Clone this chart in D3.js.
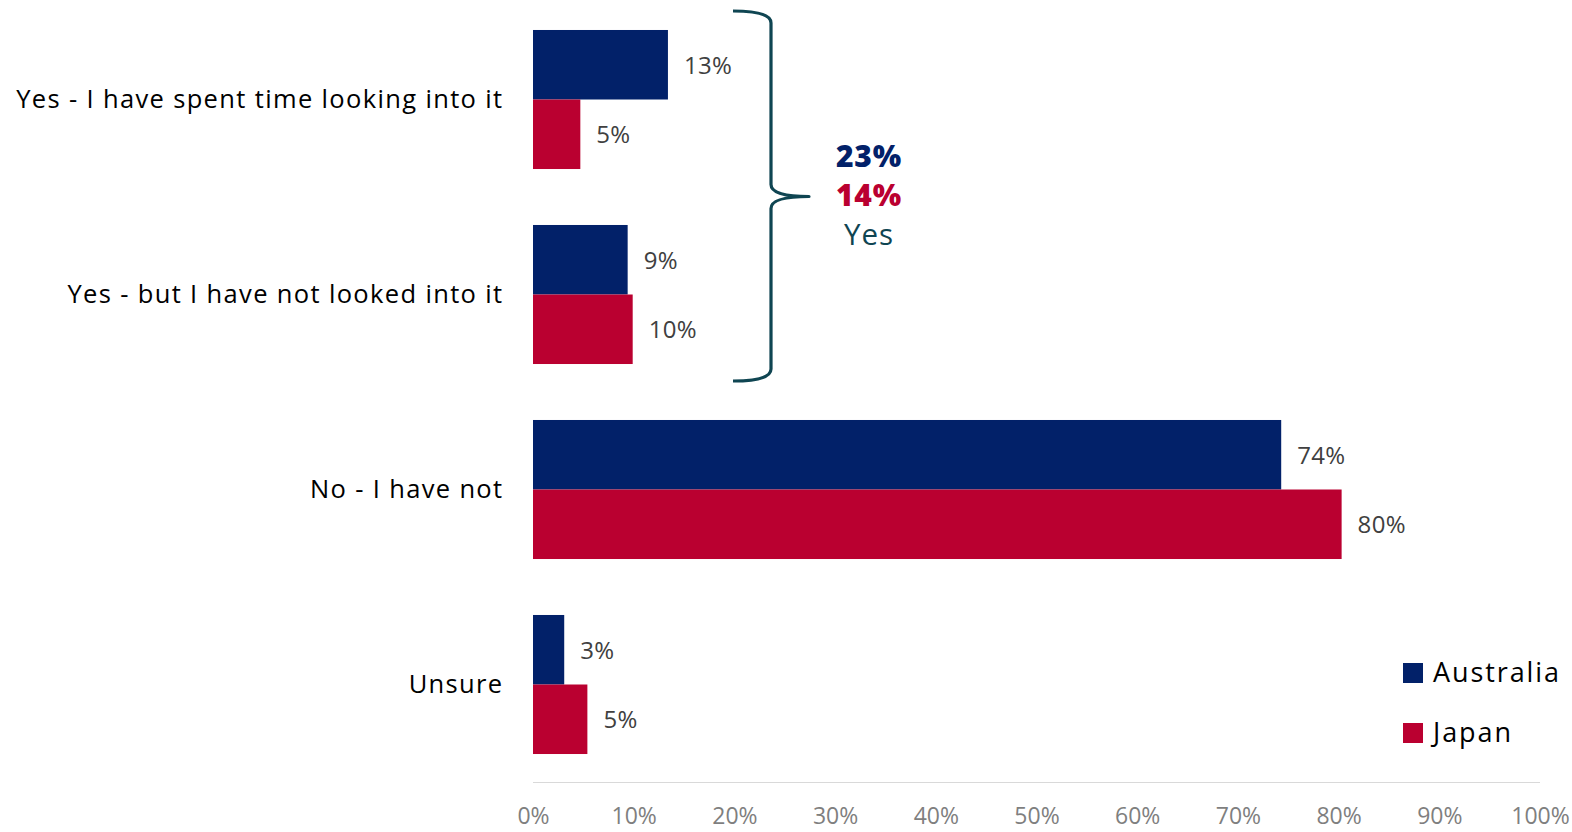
<!DOCTYPE html>
<html>
<head>
<meta charset="utf-8">
<script src="https://cdn.jsdelivr.net/npm/d3@7"></script>
<style>
  html, body { margin: 0; padding: 0; background: #fff; }
  svg { display: block; font-family: "Open Sans", "Noto Sans", sans-serif; }
</style>
</head>
<body>
<svg id="chart" width="1572" height="832"></svg>
<script>
// ---- data ----
const categories = [
  "Yes - I have spent time looking into it",
  "Yes - but I have not looked into it",
  "No - I have not",
  "Unsure"
];
const seriesNames = ["Australia", "Japan"];
const australiaValues = [13.4, 9.4, 74.3, 3.1];
const japanValues = [4.7, 9.9, 80.3, 5.4];
const australiaLabels = ["13%", "9%", "74%", "3%"];
const japanLabels = ["5%", "10%", "80%", "5%"];
const xTicks = [0, 10, 20, 30, 40, 50, 60, 70, 80, 90, 100];
const bracketTotals = ["23%", "14%"];
const bracketLabel = "Yes";

(function () {
const colors = { Australia: "#022169", Japan: "#BA0030" };
const teal = "#0f4552";

const svg = d3.select("#chart");

const x = d3.scaleLinear().domain([0, 100]).range([533, 1540]);
const y = d3.scaleBand().domain(categories).range([2, 782])
  .paddingInner(0.287).paddingOuter(0.1435);
const sub = d3.scaleBand().domain(seriesNames).range([0, y.bandwidth()]);

const rows = categories.map((c, i) => ({
  cat: c,
  vals: [
    { s: "Australia", v: australiaValues[i], label: australiaLabels[i] },
    { s: "Japan", v: japanValues[i], label: japanLabels[i] }
  ]
}));

// axis line
svg.append("line")
  .attr("x1", x(0)).attr("x2", x(100))
  .attr("y1", 782.5).attr("y2", 782.5)
  .attr("stroke", "#d9d9d9").attr("stroke-width", 1.2);

// x tick labels via axis
const xAxis = d3.axisBottom(x).tickValues(xTicks).tickFormat(d => d + "%").tickSize(0).tickPadding(0);
const gx = svg.append("g").attr("transform", "translate(0,808)").call(xAxis);
gx.select(".domain").remove();
gx.selectAll("text")
  .attr("font-family", "'Open Sans', sans-serif")
  .attr("font-size", 23)
  .attr("fill", "#7f7f7f")
  .attr("dy", "0.71em");

// bars
const groups = svg.append("g").selectAll("g").data(rows).join("g")
  .attr("transform", d => `translate(0,${y(d.cat)})`);

groups.selectAll("rect").data(d => d.vals).join("rect")
  .attr("x", x(0))
  .attr("y", d => sub(d.s))
  .attr("width", d => x(d.v) - x(0))
  .attr("height", sub.bandwidth())
  .attr("fill", d => colors[d.s]);

groups.selectAll("text.val").data(d => d.vals).join("text")
  .attr("class", "val")
  .attr("x", d => x(d.v) + 16)
  .attr("y", d => sub(d.s) + sub.bandwidth() / 2 + 9)
  .attr("font-size", 24)
  .attr("letter-spacing", 0.3)
  .attr("fill", "#404040")
  .text(d => d.label);

// category labels
const yAxis = d3.axisLeft(y).tickSize(0).tickPadding(0);
const gy = svg.append("g").attr("transform", "translate(503.5,0)").call(yAxis);
gy.select(".domain").remove();
gy.selectAll("text")
  .attr("font-family", "'Open Sans', sans-serif")
  .attr("font-size", 25.5)
  .attr("letter-spacing", 1.35)
  .attr("fill", "#000")
  .attr("dy", "0.35em");

// brace
const bTop = 11, bBot = 381, bMid = 196.5, bx = 771, lx = 733, tip = 809;
const bracePath = `M${lx},${bTop} Q${bx},${bTop} ${bx},${bTop + 12} L${bx},${bMid - 12} Q${bx},${bMid} ${tip},${bMid}` +
  ` Q${bx},${bMid} ${bx},${bMid + 12} L${bx},${bBot - 12} Q${bx},${bBot} ${lx},${bBot}`;
svg.append("path").attr("d", bracePath)
  .attr("fill", "none").attr("stroke", teal).attr("stroke-width", 3.2)
  .attr("stroke-linejoin", "round");

const annX = 869;
svg.append("text").attr("x", annX).attr("y", 167).attr("text-anchor", "middle")
  .attr("font-size", 30).attr("font-weight", 800).attr("letter-spacing", 0.8)
  .attr("fill", colors.Australia).text(bracketTotals[0]);
svg.append("text").attr("x", annX).attr("y", 206).attr("text-anchor", "middle")
  .attr("font-size", 30).attr("font-weight", 800).attr("letter-spacing", 0.8)
  .attr("fill", colors.Japan).text(bracketTotals[1]);
svg.append("text").attr("x", annX).attr("y", 245).attr("text-anchor", "middle")
  .attr("font-size", 29.5).attr("letter-spacing", 1).attr("fill", teal).text(bracketLabel);

// legend
const legend = svg.append("g").selectAll("g").data(seriesNames).join("g")
  .attr("transform", (d, i) => `translate(1403,${663 + i * 60})`);
legend.append("rect").attr("width", 20).attr("height", 20).attr("fill", d => colors[d]);
legend.append("text").attr("x", 30).attr("y", 18.5)
  .attr("font-size", 27).attr("letter-spacing", 1.9).attr("fill", "#000").text(d => d);
})();
</script>
</body>
</html>
